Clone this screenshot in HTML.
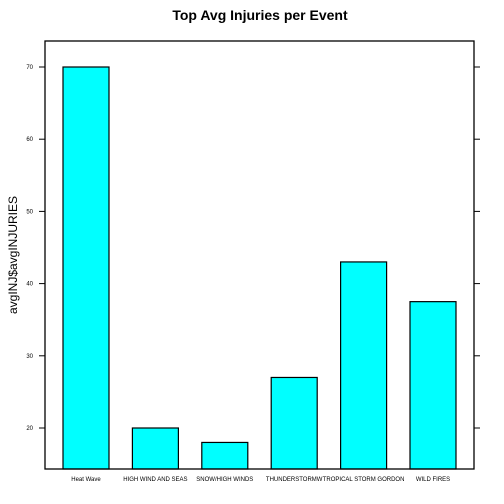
<!DOCTYPE html>
<html><head><meta charset="utf-8"><style>body{margin:0;background:#fff}svg{display:block}</style></head>
<body>
<svg width="504" height="504" font-family="Liberation Sans, sans-serif">
<text x="260" y="20" text-anchor="middle" font-size="14" font-weight="bold">Top Avg Injuries per Event</text>
<text transform="translate(17,255) rotate(-90)" text-anchor="middle" font-size="12">avgINJ$avgINJURIES</text>
<g id="plot"></g>
<rect x="45" y="41" width="429" height="428" fill="none" stroke="#000" stroke-width="1.3"/>
</svg>
<script>
const categories=["Heat Wave","HIGH WIND AND SEAS","SNOW/HIGH WINDS","THUNDERSTORMW","TROPICAL STORM GORDON","WILD FIRES"];
const values=[70,20,18,27,43,37.5];
const yTicks=[20,30,40,50,60,70];
const ns="http://www.w3.org/2000/svg";
const g=document.getElementById('plot');
const y=v=>428-(v-20)*7.22;
const xc=i=>86+i*69.4;
function mk(t,a){const e=document.createElementNS(ns,t);for(const k in a)e.setAttribute(k,a[k]);g.appendChild(e);return e;}
yTicks.forEach(t=>{
 const l=mk('line',{x1:39,x2:45,y1:y(t),y2:y(t),stroke:'#000'});
 
 
 const r=mk('line',{x1:474,x2:480,y1:y(t),y2:y(t),stroke:'#000'});
 
 
 const tx=mk('text',{x:33,y:y(t)+2,'font-size':6,'text-anchor':'end'});tx.textContent=t;
 
 
});
values.forEach((v,i)=>{
 const b=mk('rect',{x:xc(i)-23,y:y(v),width:46,height:469-y(v),fill:'#00ffff',stroke:'#000','stroke-width':1.2});
 
 
 const tx=mk('text',{x:xc(i),y:481,'font-size':6,'text-anchor':'middle'});tx.textContent=categories[i];
 
 
});
</script>
</body></html>
